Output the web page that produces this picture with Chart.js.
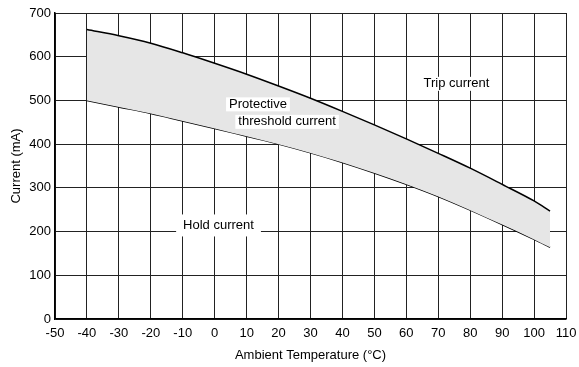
<!DOCTYPE html>
<html>
<head>
<meta charset="utf-8">
<script src="https://cdn.jsdelivr.net/npm/chart.js@4"></script>
<style>
  html, body { margin: 0; padding: 0; background: #fff; }
  #wrap { width: 579px; height: 367px; }
</style>
</head>
<body>
<div id="wrap"><canvas id="myChart" width="579" height="367"></canvas></div>
<script>
// temperatures (°C) and the two boundary curves (mA)
const temps = [-40, -30, -20, -10, 0, 10, 20, 30, 40, 50, 60, 70, 80, 90, 100, 105];
const tripCurrent = [662, 648, 631, 609, 585, 560, 533, 505, 475, 444, 412, 379, 345, 308, 270, 247];
const holdCurrent = [500, 485, 470, 453, 436, 418, 400, 380, 358, 334, 308, 280, 249, 216, 182, 164];

// labels written on the plot: text, x (°C), y (mA), alignment
const labelTexts = ["Trip current", "Hold current", "Protective", "threshold current"];
const labelX = [75.7, 1.2, 4.5, 7.4];
const labelY = [538, 214, 491, 451];
const labelAlign = ["center", "center", "left", "left"];

const font = "'Liberation Sans', Arial, sans-serif";
const fontSize = 13;
const chart = document.querySelector("#myChart");

const toPoints = (ys) => temps.map((t, i) => ({ x: t, y: ys[i] }));

// draws the labels with a white box behind them, on top of the grid
const labelPlugin = {
  id: "labels",
  afterDraw(c) {
    const ctx = c.ctx;
    const xs = c.scales.x;
    const ys = c.scales.y;
    ctx.save();
    ctx.font = fontSize + "px " + font;
    ctx.textBaseline = "middle";
    labelTexts.forEach((txt, i) => {
      const px = xs.getPixelForValue(labelX[i]);
      const py = ys.getPixelForValue(labelY[i]);
      const w = ctx.measureText(txt).width;
      const left = labelAlign[i] === "center" ? px - w / 2 : px;
      const padX = txt === "Hold current" ? 7 : 3;
      const padY = txt === "Hold current" ? 11 : 7;
      ctx.fillStyle = "#fff";
      ctx.fillRect(left - padX, py - padY, w + padX * 2, padY * 2);
      ctx.fillStyle = "#000";
      ctx.textAlign = "left";
      ctx.fillText(txt, left, py);
    });
    ctx.restore();
  },
};

const datasets = [
  {
    label: "Trip current",
    data: toPoints(tripCurrent),
    borderColor: "#000",
    borderWidth: 1.5,
    backgroundColor: "#e6e6e6",
    fill: "+1",
    pointRadius: 0,
    cubicInterpolationMode: "monotone",
  },
  {
    label: "Hold current",
    data: toPoints(holdCurrent),
    borderColor: "#000",
    borderWidth: 1.5,
    fill: false,
    pointRadius: 0,
    cubicInterpolationMode: "monotone",
  },
];

const config = {
  type: "line",
  data: { datasets },
  options: {
    responsive: false,
    animation: false,
    layout: { padding: { top: 13, right: 13, left: 0, bottom: 0 } },
    plugins: { legend: { display: false }, tooltip: { enabled: false } },
    scales: {
      x: {
        type: "linear",
        min: -50,
        max: 110,
        z: 1,
        afterFit: (s) => {
          s.height = 48;
          s.paddingLeft = 0;
          s.paddingRight = 0;
        },
        ticks: { stepSize: 10, color: "#000", font: { family: font, size: fontSize }, padding: 7, maxRotation: 0 },
        grid: { color: "#222", lineWidth: 1, drawTicks: false },
        border: { color: "#000", width: 1.5 },
        title: { display: true, text: "Ambient Temperature (°C)", color: "#000", font: { family: font, size: fontSize }, padding: { top: 2, bottom: 4 } },
      },
      y: {
        min: 0,
        max: 700,
        z: 1,
        afterFit: (s) => { s.width = 55; },
        ticks: { stepSize: 100, color: "#000", font: { family: font, size: fontSize }, padding: 4 },
        grid: { color: "#222", lineWidth: 1, drawTicks: false },
        border: { color: "#000", width: 1.5 },
        title: { display: true, text: "Current (mA)", color: "#000", font: { family: font, size: fontSize }, padding: { top: 9, bottom: 4 } },
      },
    },
  },
  plugins: [labelPlugin],
};

new Chart(chart, config);
</script>
</body>
</html>
